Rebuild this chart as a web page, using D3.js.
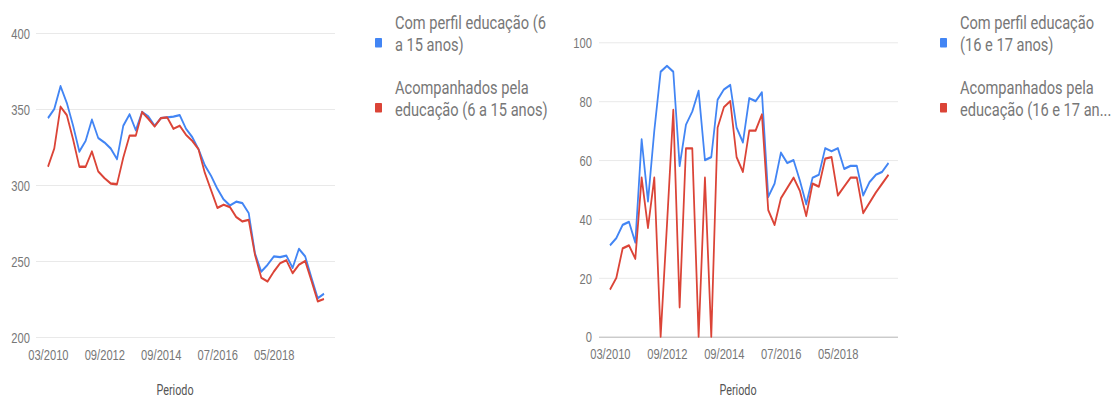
<!DOCTYPE html>
<html>
<head>
<meta charset="utf-8">
<script src="https://cdn.jsdelivr.net/npm/d3@7"></script>
<style>
  html, body { margin: 0; padding: 0; background: #fff; }
  svg { display: block; font-family: Roboto, "Noto Sans", sans-serif; }
  .grid line { stroke: #e6e6e6; stroke-width: 1; }
  .grid .domain { display: none; }
  .tick text { fill: #777; font-size: 14.5px; }
  .xaxis .domain { display: none; }
  .line { fill: none; stroke-width: 2.3; stroke-linejoin: round; }
  .legend text { fill: #777; font-size: 19px; }
  .title { fill: #555; font-size: 14px; }
</style>
</head>
<body>
<script>
// periods (bimestres), one point each
var periods = ["03/2010","05/2010","09/2010","11/2010","03/2011","05/2011","09/2011","11/2011","05/2012","09/2012",
               "11/2012","03/2013","05/2013","07/2013","09/2013","11/2013","03/2014","05/2014","09/2014",
               "11/2014","03/2015","05/2015","07/2015","09/2015","11/2015","03/2016","05/2016","07/2016",
               "09/2016","11/2016","03/2017","05/2017","07/2017","09/2017","11/2017","03/2018","05/2018",
               "07/2018","09/2018","11/2018","03/2019","05/2019","07/2019","09/2019","11/2019"];
var tickLabels = ["03/2010","09/2012","09/2014","07/2016","05/2018"];

// 6 a 15 anos
var perfil615 = [344,350,365,354,339,322,329,343,331,328,324,317,339,346.5,336,348,345,339,344,344.5,
                 345,346,337,331.5,323.5,313,306,297.5,290.5,286.5,289,288,281.5,255,243,247.5,253,252.5,
                 253.5,245.5,258,253,239,225.5,228.5];
var acomp615 = [312,324,351.5,346,330,312,312,322,309,304.5,301,300.5,318,332.5,332.5,348,343.5,338.5,344,344.5,
                337,339,333,329,323.5,308,296.5,285,287,285.5,279,276,277,254,239,236.5,243,248.5,
                250.5,242,247.5,250,237,223.5,225];

// 16 e 17 anos
var perfil1617 = [31,33.5,38,39,32,67,46,70,90,92,90,58,72,76.5,83.5,60,61,80.5,84,85.5,
                  71,66,81,80,83,47.5,52,62.5,59,60,53,45,54,55,64,63,64,57,58,58,48,52.5,55,56,59];
var acomp1617 = [16,20,30,31,26.5,54,37,54,0,38,77,10,64,64,0,54,0,71,78,80,
                 61,56,70,70,75.5,43,38,47,50.5,54,49.5,41,52,51,60.5,61,48,51,54,54,42,45.5,49,52,55];

var ticks615 = [200,250,300,350,400],
    ticks1617 = [0,20,40,60,80,100];

var colors = ["#4285f4", "#db4437"];

// the reference is squeezed horizontally; draw in a wider space and squeeze it back
var S = 0.77, W = 1116, H = 400;
function X(v) { return v / S; }

var svg = d3.select("body").append("svg")
    .attr("width", W)
    .attr("height", H)
    .attr("viewBox", "0 0 " + (W / S) + " " + H)
    .attr("preserveAspectRatio", "none");

var charts = [
  { series: [perfil615, acomp615], ticks: ticks615, domain: [200, 400], yr: [337, 33],
    grid: [36, 335], pts: [48, 324], labelX: 30, legendX: 375, title: 175,
    names: [["Com perfil educação (6", "a 15 anos)"], ["Acompanhados pela", "educação (6 a 15 anos)"]] },
  { series: [perfil1617, acomp1617], ticks: ticks1617, domain: [0, 100], yr: [336.7, 42.3],
    grid: [599, 898], pts: [610, 888.5], labelX: 592, legendX: 940, title: 738,
    names: [["Com perfil educação", "(16 e 17 anos)"], ["Acompanhados pela", "educação (16 e 17 an..."]] }
];

charts.forEach(function(c) {
  var x = d3.scalePoint().domain(periods).range([X(c.pts[0]), X(c.pts[1])]);
  var y = d3.scaleLinear().domain(c.domain).range(c.yr);

  // gridlines + y labels
  var gy = svg.append("g")
      .attr("class", "grid")
      .attr("transform", "translate(" + X(c.grid[0]) + ",0)")
      .call(d3.axisLeft(y).tickValues(c.ticks).tickSize(-(X(c.grid[1]) - X(c.grid[0])))
              .tickPadding(X(c.grid[0] - c.labelX)));
  gy.selectAll(".tick line")
      .style("stroke", function(d) { return d === c.domain[0] && d === 0 ? "#aaa" : "#e6e6e6"; });
  gy.selectAll(".tick text").attr("dy", "0.36em");

  // x labels
  svg.append("g")
      .attr("class", "xaxis")
      .attr("transform", "translate(0," + c.yr[0] + ")")
      .call(d3.axisBottom(x).tickValues(tickLabels).tickSize(0).tickPadding(12.5));

  // lines
  var line = d3.line()
      .x(function(d, i) { return x(periods[i]); })
      .y(function(d) { return y(d); });

  svg.append("g").selectAll("path")
      .data(c.series)
    .enter().append("path")
      .attr("class", "line")
      .attr("d", line)
      .style("stroke", function(d, i) { return colors[i]; });

  // axis title
  svg.append("text")
      .attr("class", "title")
      .attr("x", X(c.title))
      .attr("y", 395)
      .attr("text-anchor", "middle")
      .text("Periodo");

  // legend
  var lg = svg.append("g").attr("class", "legend")
    .selectAll("g")
      .data(c.names)
    .enter().append("g")
      .attr("transform", function(d, i) { return "translate(" + X(c.legendX) + "," + (i * 65) + ")"; });

  lg.append("rect")
      .attr("x", 0).attr("y", 38)
      .attr("width", X(7)).attr("height", 9.5)
      .attr("rx", 1)
      .style("fill", function(d, i) { return colors[i]; });

  lg.append("text")
      .attr("x", X(20))
      .attr("y", 29)
    .selectAll("tspan")
      .data(function(d) { return d; })
    .enter().append("tspan")
      .attr("x", X(20))
      .attr("dy", function(d, i) { return i ? 22 : 0; })
      .text(String);
});
</script>
</body>
</html>
